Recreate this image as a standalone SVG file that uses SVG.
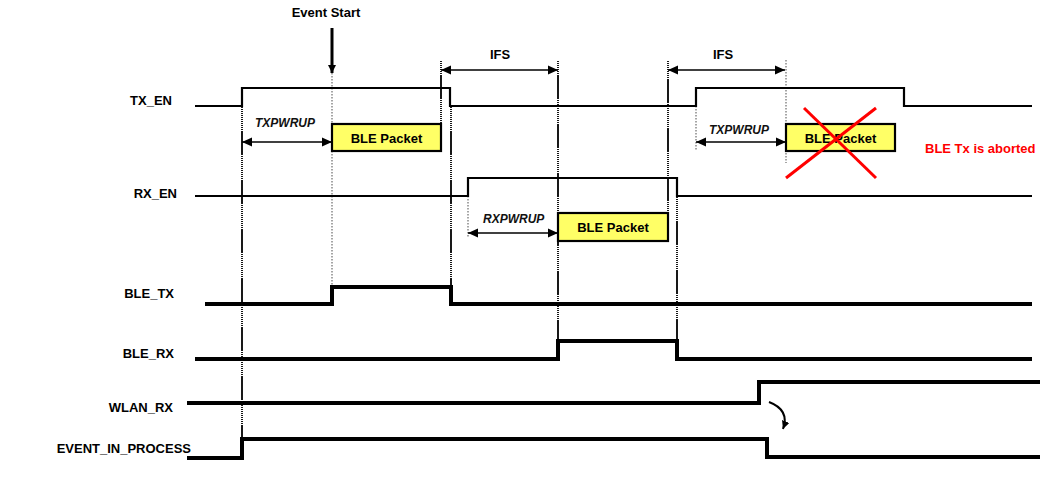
<svg xmlns="http://www.w3.org/2000/svg" width="1062" height="482" viewBox="0 0 1062 482">
<style>
.lbl{font-family:"Liberation Sans",Arial,sans-serif;font-weight:bold;font-size:13px;fill:#000}
.it{font-family:"Liberation Sans",Arial,sans-serif;font-weight:bold;font-style:italic;font-size:12px;fill:#111}
.sig{fill:none;stroke:#000;stroke-width:2.2;stroke-linejoin:miter}
.sigb{fill:none;stroke:#000;stroke-width:4;stroke-linejoin:miter}
.guide{stroke:#000;stroke-width:1.8;stroke-dasharray:24 1 1 1 1 1 1 1 1 1 1 1 1 1 1 1 1 1 1 1 1 1 1 1 1 1}
.gray{stroke:#888;stroke-width:1.5;stroke-dasharray:1.5 1.5}
.arr{stroke:#000;stroke-width:1.6;marker-start:url(#ah);marker-end:url(#ah)}
.box{fill:#FFFF66;stroke:#000;stroke-width:2.2}
</style>
<defs>
<marker id="ah" markerUnits="userSpaceOnUse" markerWidth="12" markerHeight="10" refX="10" refY="5" orient="auto-start-reverse">
<path d="M0,0.5 L10,5 L0,9.5 Z" fill="#000"/>
</marker>
<marker id="ahs" markerUnits="userSpaceOnUse" markerWidth="10" markerHeight="10" refX="8" refY="4" orient="auto">
<path d="M0,0 L8,4 L0,8 Z" fill="#000"/>
</marker>
</defs>
<rect width="1062" height="482" fill="#fff"/>

<g id="connectors">
<line class="guide" x1="242" y1="106" x2="242" y2="439" stroke-dashoffset="24"/>
<line class="guide" x1="441" y1="60" x2="441" y2="124" stroke-dashoffset="34"/>
<line class="guide" x1="451" y1="106" x2="451" y2="287" stroke-dashoffset="24"/>
<line class="guide" x1="558" y1="60" x2="558" y2="341" stroke-dashoffset="34"/>
<line class="guide" x1="668" y1="60" x2="668" y2="213" stroke-dashoffset="30"/>
<line class="guide" x1="677" y1="196" x2="677" y2="341" stroke-dashoffset="24"/>
<line class="gray" x1="332" y1="73" x2="332" y2="287"/>
<line class="gray" x1="468" y1="196" x2="468" y2="238"/>
<line class="gray" x1="696" y1="106" x2="696" y2="150"/>
<line class="gray" x1="786" y1="60" x2="786" y2="163"/>
<line x1="332" y1="28" x2="332" y2="73" stroke="#000" stroke-width="3" marker-end="url(#ahs)"/>
<line class="arr" x1="441" y1="70" x2="558" y2="70"/>
<line class="arr" x1="668" y1="70" x2="785" y2="70"/>
<line class="arr" x1="242" y1="142" x2="332" y2="142"/>
<line class="arr" x1="696" y1="142" x2="786" y2="142"/>
<line class="arr" x1="468" y1="233" x2="558" y2="233"/>
<path d="M769,402 Q790,410 783,429" fill="none" stroke="#000" stroke-width="2" marker-end="url(#ahs)"/>
</g>

<g id="event-start"><text class="lbl" x="326" y="17" text-anchor="middle" font-size="14">Event Start</text></g>
<g id="ifs1"><text class="lbl" x="500" y="59" text-anchor="middle">IFS</text></g>
<g id="ifs2"><text class="lbl" x="723" y="59" text-anchor="middle">IFS</text></g>
<g id="txpwrup1"><text class="it" x="255" y="127">TXPWRUP</text></g>
<g id="txpwrup2"><text class="it" x="709" y="134">TXPWRUP</text></g>
<g id="rxpwrup"><text class="it" x="483" y="223">RXPWRUP</text></g>

<g id="tx_en">
<text class="lbl" x="172" y="105" text-anchor="end">TX_EN</text>
<polyline class="sig" points="195,106 242,106 242,88 450,88 450,106 696,106 696,88 904,88 904,106 1032,106"/>
</g>
<g id="rx_en">
<text class="lbl" x="177" y="198" text-anchor="end">RX_EN</text>
<polyline class="sig" points="195,196 468,196 468,178 677,178 677,196 1032,196"/>
</g>
<g id="ble_tx">
<text class="lbl" x="174" y="298" text-anchor="end">BLE_TX</text>
<polyline class="sigb" points="205,304 332,304 332,287 451,287 451,304 1032,304"/>
</g>
<g id="ble_rx">
<text class="lbl" x="174" y="358" text-anchor="end">BLE_RX</text>
<polyline class="sigb" points="195,359 558,359 558,341 677,341 677,359 1032,359"/>
</g>
<g id="wlan_rx">
<text class="lbl" x="173" y="412" text-anchor="end">WLAN_RX</text>
<polyline class="sigb" points="187,403 759,403 759,382 1040,382"/>
</g>
<g id="event_in_process">
<text class="lbl" x="191" y="453" text-anchor="end" font-size="12">EVENT_IN_PROCESS</text>
<polyline class="sigb" points="187,458 242,458 242,439 767,439 767,457 1040,457"/>
</g>

<g id="packet1">
<rect class="box" x="332" y="124" width="109" height="27"/>
<text class="lbl" x="386.5" y="142.5" text-anchor="middle">BLE Packet</text>
</g>
<g id="packet2">
<rect class="box" x="558" y="213" width="110" height="28"/>
<text class="lbl" x="613" y="232" text-anchor="middle">BLE Packet</text>
</g>
<g id="packet3">
<rect class="box" x="786" y="124" width="109" height="27"/>
<text class="lbl" x="840.5" y="142.5" text-anchor="middle">BLE Packet</text>
<line x1="786" y1="178" x2="876" y2="108" stroke="#FF0000" stroke-width="3"/>
<line x1="804" y1="108" x2="876" y2="178" stroke="#FF0000" stroke-width="3"/>
</g>
<g id="aborted"><text class="lbl" x="925" y="153" font-size="13.5" fill="#FF0000" style="fill:#FF0000">BLE Tx is aborted</text></g>
</svg>
